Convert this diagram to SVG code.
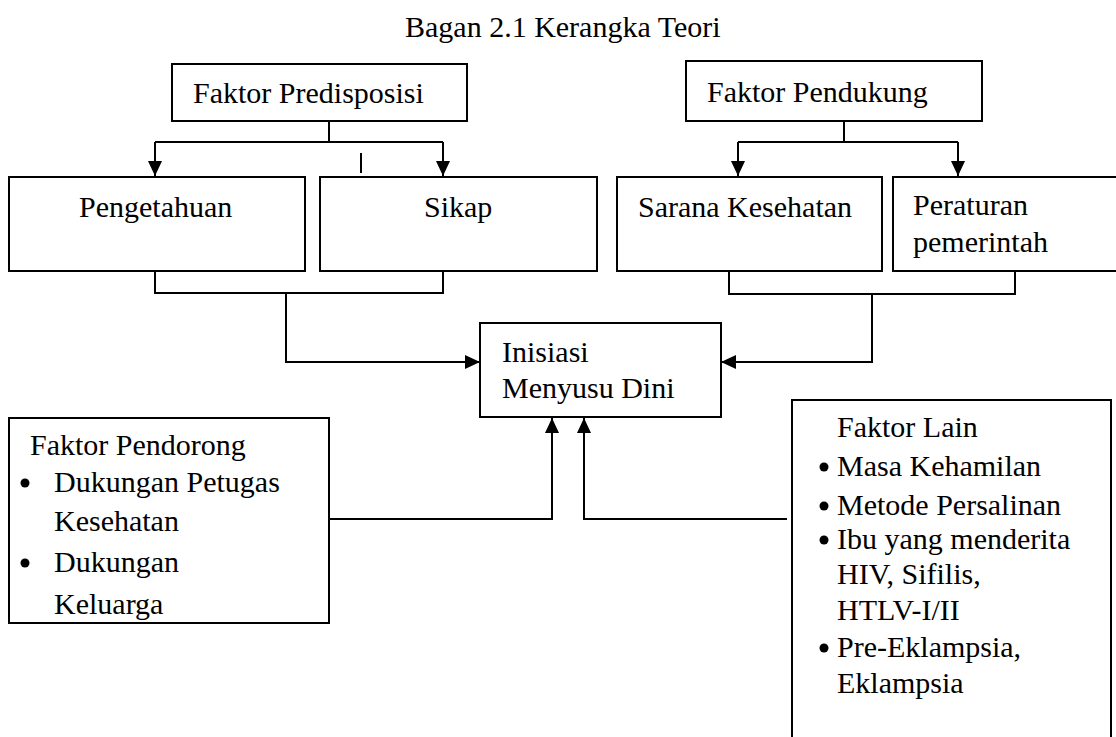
<svg xmlns="http://www.w3.org/2000/svg" width="1116" height="737" viewBox="0 0 1116 737">
<style>
text{font-family:"Liberation Serif","Times New Roman",serif;font-size:30px;fill:#000}
.box{fill:#fff;stroke:#000;stroke-width:2}
.ln{fill:none;stroke:#000;stroke-width:2}
.ar{fill:none;stroke:#000;stroke-width:2;marker-end:url(#ah)}
</style>
<defs>
<marker id="ah" viewBox="0 0 15 14" refX="15" refY="7" markerWidth="15" markerHeight="14" markerUnits="userSpaceOnUse" orient="auto">
<path d="M0,0 L15,7 L0,14 Z" fill="#000"/>
</marker>
</defs>
<rect width="1116" height="737" fill="#fff"/>
<text x="405" y="37">Bagan 2.1 Kerangka Teori</text>
<g id="connectors">
<path class="ln" d="M329,121 V142 M155,142 H443"/>
<path class="ar" d="M155,142 V176"/>
<path class="ar" d="M443,142 V176"/>
<path class="ln" d="M361,153 V173"/>
<path class="ln" d="M844,121 V142 M738,142 H958"/>
<path class="ar" d="M738,142 V176"/>
<path class="ar" d="M958,142 V176"/>
<path class="ln" d="M155,271 V293 H443 V271"/>
<path class="ar" d="M286,293 V362 H480"/>
<path class="ln" d="M729,271 V294 H1015 V271"/>
<path class="ar" d="M872,294 V362 H721"/>
<path class="ar" d="M329,519 H552 V418"/>
<path class="ar" d="M787,519 H584 V418"/>
</g>
<g id="predisposisi"><rect class="box" x="172" y="64" width="295" height="57"/><text x="193" y="103">Faktor Predisposisi</text></g>
<g id="pendukung"><rect class="box" x="686" y="61" width="296" height="60"/><text x="707" y="102">Faktor Pendukung</text></g>
<g id="pengetahuan"><rect class="box" x="9" y="177" width="296" height="94"/><text x="79" y="217">Pengetahuan</text></g>
<g id="sikap"><rect class="box" x="320" y="177" width="277" height="94"/><text x="424" y="217">Sikap</text></g>
<g id="sarana"><rect class="box" x="617" y="177" width="265" height="94"/><text x="638" y="217">Sarana Kesehatan</text></g>
<g id="peraturan"><rect class="box" x="893" y="177" width="240" height="94"/><text x="913" y="215">Peraturan</text><text x="913" y="252">pemerintah</text></g>
<g id="imd"><rect class="box" x="480" y="323" width="241" height="94"/><text x="502" y="362">Inisiasi</text><text x="502" y="398">Menyusu Dini</text></g>
<g id="pendorong"><rect class="box" x="9" y="418" width="320" height="205"/>
<text x="30" y="455">Faktor Pendorong</text>
<circle cx="25" cy="483" r="4.5"/><text x="54" y="492">Dukungan Petugas</text>
<text x="54" y="531">Kesehatan</text>
<circle cx="25" cy="563" r="4.5"/><text x="54" y="572">Dukungan</text>
<text x="54" y="614">Keluarga</text>
</g>
<g id="lain"><rect class="box" x="792" y="400" width="319" height="345"/>
<text x="837" y="437">Faktor Lain</text>
<circle cx="824" cy="467" r="4.5"/><text x="837" y="476">Masa Kehamilan</text>
<circle cx="824" cy="506" r="4.5"/><text x="837" y="515">Metode Persalinan</text>
<circle cx="824" cy="540" r="4.5"/><text x="837" y="549">Ibu yang menderita</text>
<text x="837" y="584">HIV, Sifilis,</text>
<text x="837" y="620">HTLV-I/II</text>
<circle cx="824" cy="648" r="4.5"/><text x="837" y="657">Pre-Eklampsia,</text>
<text x="837" y="693">Eklampsia</text>
</g>
</svg>
